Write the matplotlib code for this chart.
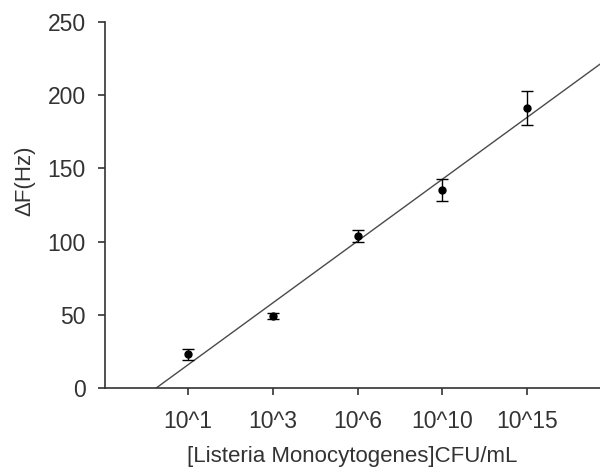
import numpy as np
import matplotlib.pyplot as plt

plt.rcParams['font.family'] = ['Liberation Sans', 'DejaVu Sans']

# Listeria concentration levels and frequency shift readings
concentrations = ['10^1', '10^3', '10^6', '10^10', '10^15']
delta_f = [23, 49, 104, 135, 191]
delta_f_err = [4, 2, 4, 7.5, 11.5]

x = np.arange(1, len(concentrations) + 1)

# Linear fit over the category index
slope, intercept = np.polyfit(x, delta_f, 1)

fig = plt.figure(figsize=(6, 4.74), dpi=100)
ax = fig.add_axes([0.175, 0.181, 0.825, 0.773])

x_end = 5.86
x_start = -intercept / slope
ax.plot([x_start, x_end], [0, slope * x_end + intercept], color='#4a4a4a', lw=1.0)

ax.errorbar(x, delta_f, yerr=delta_f_err, fmt='o', color='black', ms=5,
            elinewidth=1.0, capsize=4, capthick=1.0)

ax.set_xlim(0.02, x_end)
ax.set_ylim(0, 250)
ax.set_xticks(x)
ax.set_xticklabels(concentrations)
ax.set_yticks([0, 50, 100, 150, 200, 250])

for side in ['top', 'right']:
    ax.spines[side].set_visible(False)
for side in ['left', 'bottom']:
    ax.spines[side].set_color('#333333')
    ax.spines[side].set_linewidth(1.2)

ax.tick_params(axis='both', direction='out', length=5, width=1.2,
               colors='#333333', labelsize=16.5)
ax.tick_params(axis='x', pad=11)
ax.tick_params(axis='y', pad=9)

ax.set_xlabel('[Listeria Monocytogenes]CFU/mL', fontsize=16, color='#333333', labelpad=9)
ax.set_ylabel('ΔF(Hz)', fontsize=16, color='#333333')
ax.yaxis.set_label_coords(-0.141, 0.565)

fig.savefig('out.png', dpi=100)
